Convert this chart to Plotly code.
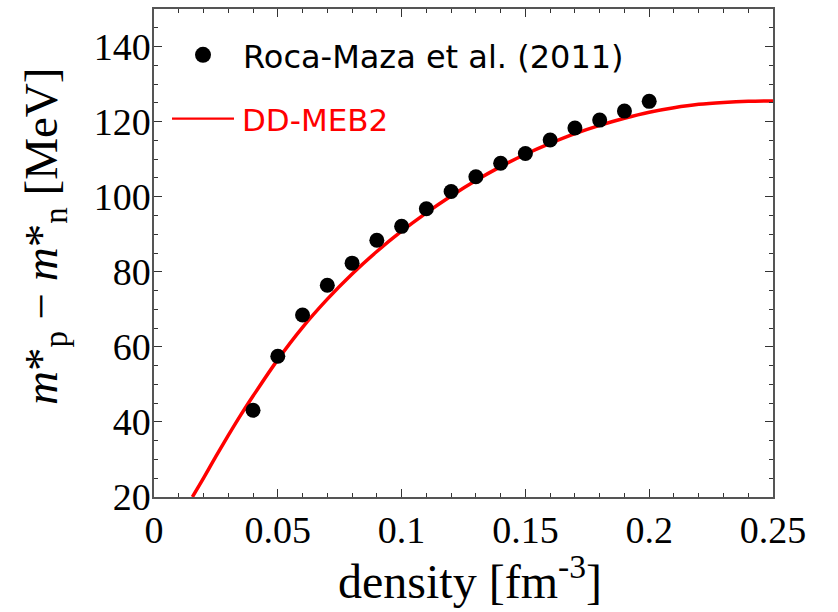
import plotly.graph_objects as go

# Data: Roca-Maza et al. (2011) points
rm_density = [0.04, 0.05, 0.06, 0.07, 0.08, 0.09, 0.10, 0.11, 0.12, 0.13,
              0.14, 0.15, 0.16, 0.17, 0.18, 0.19, 0.20]
rm_split = [43.1, 57.5, 68.5, 76.4, 82.3, 88.4, 92.1, 96.8, 101.4, 105.3,
            108.9, 111.5, 115.1, 118.3, 120.4, 122.8, 125.4]

# DD-MEB2 curve
dd_density = [0.0155, 0.02, 0.025, 0.03, 0.035, 0.04, 0.05, 0.06, 0.07, 0.08,
              0.09, 0.10, 0.11, 0.12, 0.13, 0.14, 0.15, 0.16, 0.17, 0.18,
              0.19, 0.20, 0.21, 0.22, 0.23, 0.24, 0.25]
dd_split = [20.0, 25.0, 30.8, 36.4, 41.8, 46.9, 56.6, 65.2, 72.7, 79.4,
            85.4, 90.8, 95.7, 100.2, 104.3, 108.0, 111.3, 114.2, 116.8, 119.0,
            120.9, 122.5, 123.7, 124.6, 125.1, 125.4, 125.5]

x_ticks = [0, 0.05, 0.1, 0.15, 0.2, 0.25]
x_ticklabels = ["0", "0.05", "0.1", "0.15", "0.2", "0.25"]
y_ticks = [20, 40, 60, 80, 100, 120, 140]

W, H = 838, 612
ML, MR, MT, MB = 154, 65, 7, 115
PW, PH = W - ML - MR, H - MT - MB

def px(xp):
    return (xp - ML) / PW

def py(yp):
    return (H - MB - yp) / PH

fig = go.Figure()
fig.add_trace(go.Scatter(x=dd_density, y=dd_split, mode="lines",
                         line=dict(color="#ff0000", width=3.5, shape="spline"),
                         name="DD-MEB2", showlegend=False))
fig.add_trace(go.Scatter(x=rm_density, y=rm_split, mode="markers",
                         marker=dict(color="black", size=15),
                         name="Roca-Maza et al. (2011)", showlegend=False))

serif = "Liberation Serif, Times New Roman, serif"
sans = "DejaVu Sans, sans-serif"

axis_common = dict(showgrid=False, zeroline=False, showline=True,
                   linecolor="#555555", linewidth=1.5, mirror="allticks",
                   ticks="inside", ticklen=8, tickwidth=1.2, tickcolor="#333333",
                   tickfont=dict(family=serif, size=38, color="black"))

fig.update_xaxes(range=[0, 0.25], tickvals=x_ticks, ticktext=x_ticklabels,
                 minor=dict(dtick=0.01, tick0=0, ticks="inside", ticklen=4,
                            tickwidth=1.1, tickcolor="#333333"),
                 ticklabelstandoff=-1, **axis_common)
fig.update_yaxes(range=[20, 150], tickvals=y_ticks,
                 minor=dict(dtick=5, tick0=20, ticks="inside", ticklen=4,
                            tickwidth=1.1, tickcolor="#333333"),
                 ticklabelstandoff=-6, **axis_common)

shapes = [
    dict(type="circle", xref="paper", yref="paper", xsizemode="pixel",
         ysizemode="pixel", xanchor=px(203), yanchor=py(53),
         x0=-8, x1=8, y0=-8, y1=8, fillcolor="black", line=dict(width=0)),
    dict(type="line", xref="paper", yref="paper", x0=px(172), x1=px(234),
         y0=py(117), y1=py(117), line=dict(color="#ff0000", width=2.2)),
]

annotations = [
    dict(text="Roca-Maza et al. (2011)", xref="paper", yref="paper",
         x=px(241), y=py(55), xanchor="left", yanchor="middle", showarrow=False,
         font=dict(family=sans, size=32, color="black")),
    dict(text="DD-MEB2", xref="paper", yref="paper",
         x=px(240), y=py(118), xanchor="left", yanchor="middle", showarrow=False,
         font=dict(family=sans, size=31, color="#ff0000")),
    dict(text="density [fm<sup>-3</sup>]", xref="paper", yref="paper",
         x=px(470), y=py(578), xanchor="center", yanchor="middle", showarrow=False,
         font=dict(family=serif, size=48, color="black")),
    dict(text="<i>m</i>*<sub>p</sub> − <i>m</i>*<sub>n</sub> [MeV]",
         xref="paper", yref="paper", x=px(44), y=py(236), textangle=-90,
         xanchor="center", yanchor="middle", showarrow=False,
         font=dict(family=serif, size=47, color="black")),
]

fig.update_layout(width=W, height=H, margin=dict(l=ML, r=MR, t=MT, b=MB),
                  paper_bgcolor="white", plot_bgcolor="white",
                  shapes=shapes, annotations=annotations, showlegend=False)

fig.write_html("out.html")
